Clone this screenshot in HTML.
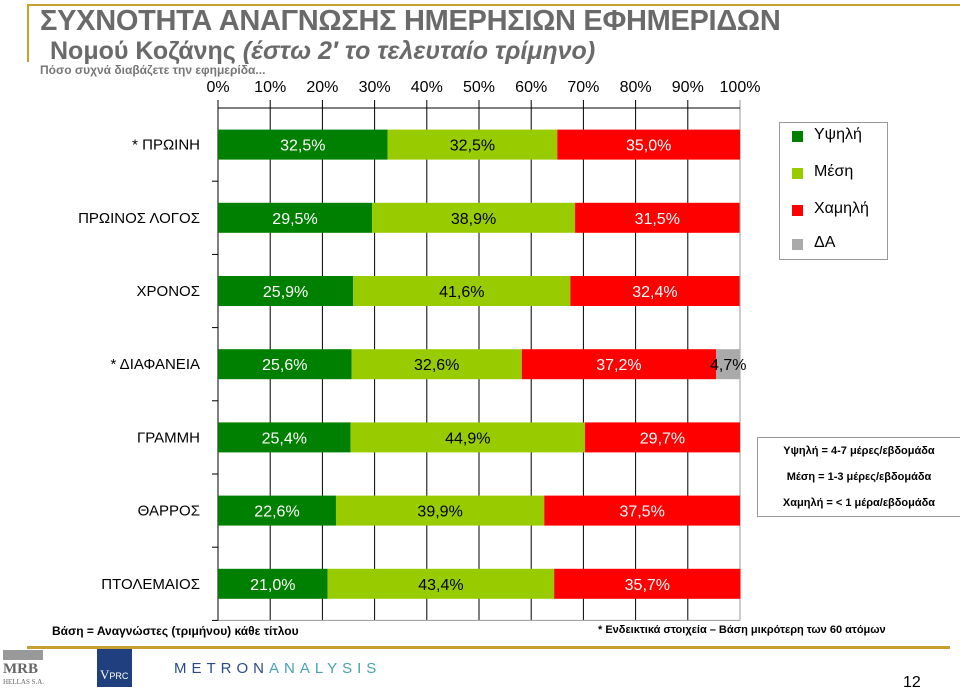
<!DOCTYPE html>
<html><head><meta charset="utf-8"><style>
body{margin:0;width:960px;height:691px;background:#fff;overflow:hidden;font-family:"Liberation Sans","DejaVu Sans",sans-serif;position:relative}
.a{position:absolute}
</style></head><body>
<div class="a" style="left:27px;top:4px;width:933px;height:2px;background:#c8a030"></div>
<div class="a" style="left:27px;top:4px;width:2px;height:58px;background:#c8a030"></div>
<div class="a" style="left:40px;top:5px;font-size:29px;font-weight:bold;color:#6a6a6a;white-space:nowrap;letter-spacing:-0.3px">ΣΥΧΝΟΤΗΤΑ ΑΝΑΓΝΩΣΗΣ ΗΜΕΡΗΣΙΩΝ ΕΦΗΜΕΡΙΔΩΝ</div>
<div class="a" style="left:50px;top:37px;font-size:25px;font-weight:bold;color:#6a6a6a;white-space:nowrap">Νομού Κοζάνης <i>(έστω 2′ το τελευταίο τρίμηνο)</i></div>
<div class="a" style="left:40px;top:63px;font-size:12px;font-weight:bold;color:#777;white-space:nowrap">Πόσο συχνά διαβάζετε την εφημερίδα...</div>
<svg class="a" style="left:0;top:0" width="960" height="691" id="svg"></svg>
<div class="a" style="left:779px;top:122px;width:107px;height:136px;border:1px solid #999;font-size:16px">
 <div class="a" style="left:12px;top:8px;width:11px;height:11px;background:#008000"></div><div class="a" style="left:34px;top:3px">Υψηλή</div>
 <div class="a" style="left:12px;top:45px;width:11px;height:11px;background:#99cc00"></div><div class="a" style="left:34px;top:40px">Μέση</div>
 <div class="a" style="left:12px;top:82px;width:11px;height:11px;background:#ff0000"></div><div class="a" style="left:34px;top:77px">Χαμηλή</div>
 <div class="a" style="left:12px;top:116px;width:11px;height:11px;background:#aaaaaa"></div><div class="a" style="left:34px;top:111px">ΔΑ</div>
</div>
<div class="a" style="left:757px;top:437px;width:202px;height:78px;border:1px solid #999;font-size:11px;font-weight:bold;line-height:26px;text-align:center">
 <div>Υψηλή = 4-7 μέρες/εβδομάδα</div><div>Μέση = 1-3 μέρες/εβδομάδα</div><div>Χαμηλή = &lt; 1 μέρα/εβδομάδα</div>
</div>
<div class="a" style="left:52px;top:624px;font-size:12px;font-weight:bold">Βάση = Αναγνώστες (τριμήνου) κάθε τίτλου</div>
<div class="a" style="left:598px;top:624px;font-size:11px;font-weight:bold">* Ενδεικτικά στοιχεία – Βάση μικρότερη των 60 ατόμων</div>
<div class="a" style="left:27px;top:646px;width:923px;height:3px;background:#c8a030"></div>
<div class="a" style="left:3px;top:650px;width:40px;height:10px;background:#999"></div>
<div class="a" style="left:3px;top:661px;font-family:'Liberation Serif',serif;font-size:15px;font-weight:bold;color:#666">MRB<div style="font-size:7px;font-weight:normal">HELLAS S.A.</div></div>
<div class="a" style="left:97px;top:649px;width:35px;height:38px;background:#1f3f7f;color:#fff;font-size:13px;font-family:'Liberation Serif',serif"><span style="position:absolute;left:3px;top:18px">V<span style="font-size:9px;font-family:'Liberation Sans'">PRC</span></span></div>
<div class="a" style="left:174px;top:660px;font-size:15px;letter-spacing:5px;color:#2a4a8a">METRON<span style="color:#4aa0b0">ANALYSIS</span></div>
<div class="a" style="left:903px;top:674px;font-size:16px">12</div>
<script>
const categories=["* ΠΡΩΙΝΗ","ΠΡΩΙΝΟΣ ΛΟΓΟΣ","ΧΡΟΝΟΣ","* ΔΙΑΦΑΝΕΙΑ","ΓΡΑΜΜΗ","ΘΑΡΡΟΣ","ΠΤΟΛΕΜΑΙΟΣ"];
const high=[32.5,29.5,25.9,25.6,25.4,22.6,21.0];
const mid=[32.5,38.9,41.6,32.6,44.9,39.9,43.4];
const low=[35.0,31.5,32.4,37.2,29.7,37.5,35.7];
const na=[0,0,0,4.7,0,0,0];
const ticks=[0,10,20,30,40,50,60,70,80,90,100];
const svg=document.getElementById('svg');const NS='http://www.w3.org/2000/svg';
const X0=218,X1=740,Y0=108,BAND=73.2,BH=30;
const x=v=>X0+(X1-X0)*v/100;
const yc=i=>Y0+BAND*(i+0.5);
function mk(t,a){const e=document.createElementNS(NS,t);for(const k in a)e.setAttribute(k,a[k]);svg.appendChild(e);return e;}
const Yend=Y0+BAND*categories.length;
ticks.forEach(t=>{
 const l=mk('line',{x1:x(t),x2:x(t),y1:Y0-8,y2:Yend,stroke:t==100?'#999':'#000','stroke-width':1});
 
 const tx=mk('text',{x:x(t),y:92,'text-anchor':'middle','font-size':16});tx.textContent=t+'%';
 
});
let ax=mk('line',{x1:X0,x2:X1,y1:Y0,y2:Y0,stroke:'#000'});
let ax2=mk('line',{x1:X0,x2:X1,y1:Yend,y2:Yend,stroke:'#999'});
let yl=mk('line',{x1:X0,x2:X0,y1:Y0,y2:Yend,stroke:'#000'});
for(let i=1;i<=categories.length;i++){const t=mk('line',{x1:X0-6,x2:X0,y1:Y0+BAND*i,y2:Y0+BAND*i,stroke:'#000'});}
const series=[[high,'#008000','#fff','high'],[mid,'#99cc00','#000','mid'],[low,'#ff0000','#fff','low'],[na,'#aaaaaa','#000','na']];
categories.forEach((c,i)=>{
 const lab=mk('text',{x:200,y:yc(i)+5,'text-anchor':'end','font-size':15});lab.textContent=c;
 
 let acc=0;
 series.forEach(([arr,col,tc,nm])=>{
  const v=arr[i];if(!v)return;
  const r=mk('rect',{x:x(acc),y:yc(i)-BH/2,width:x(acc+v)-x(acc),height:BH,fill:col});
  
  const t=mk('text',{x:(x(acc)+x(acc+v))/2,y:yc(i)+6,'text-anchor':'middle','font-size':16,fill:tc});
  t.textContent=v.toFixed(1).replace('.',',')+'%';
  
  acc+=v;
 });
});
</script>
</body></html>
